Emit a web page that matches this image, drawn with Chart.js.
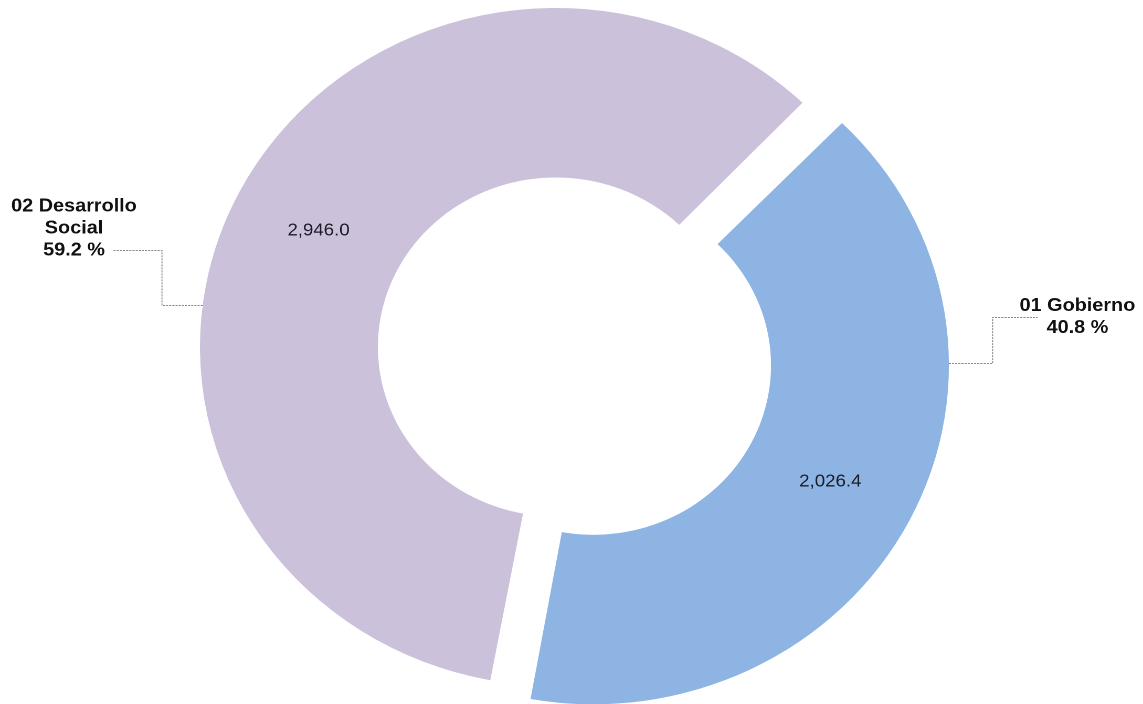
<!DOCTYPE html>
<html><head><meta charset="utf-8">
<script src="https://cdn.jsdelivr.net/npm/chart.js@4.4.1/dist/chart.umd.min.js"></script>
<style>
html,body{margin:0;padding:0;background:#fff;overflow:hidden;width:1143px;height:704px}
#wrap{position:absolute;left:0;top:0;width:1089px;height:704px;transform:scaleX(1.0496);transform-origin:0 0}
</style></head><body>
<div id="wrap"><canvas id="c"></canvas></div>
<script>
// ---- data ----
const categories = ['01 Gobierno', '02 Desarrollo Social'];
const categoryLines = [['01 Gobierno'], ['02 Desarrollo', 'Social']];
const values = [2026.4, 2946.0];
const colors = ['#8DB4E2', '#CCC1DA'];

// ---- layout ----
const RADIUS = 339, CUTOUT = '50%', ROTATION = 43.9, SHIFT = 40;
const offsets = [SHIFT * 4, 0];
const callouts = [
  {anchorDeg: 89.6, elbowX: 945.7, lineY: 317, endX: 988.6, textX: 1026.5, textY: 306},
  {anchorDeg: 277.2, elbowX: 154.3, lineY: 250, endX: 107.6, textX: 70.5, textY: 206.5}
];
const LINE_H = 22;
const FONT = 'Arial, "Liberation Sans", sans-serif';

const total = values.reduce((a, b) => a + b, 0);
const fmt = v => v.toLocaleString('en-US', {minimumFractionDigits: 1, maximumFractionDigits: 1});

// Chart.js grows an offset arc's radii by (offset/4)*fix while drawing; undo it so the
// exploded slice keeps the same ring size as the other slice.
const radiusGrowth = el => {
  const i = el.$context ? el.$context.dataIndex : 0;
  const off = (offsets[i] || 0) / 4;
  const circ = el.endAngle - el.startAngle;
  return off * (1 - Math.sin(Math.min(Math.PI, circ)));
};
const offsetFix = {
  id: 'offsetFix',
  afterDatasetsUpdate(chart) {
    chart.getDatasetMeta(0).data.forEach((el, i) => {
      const off = (offsets[i] || 0) / 4;
      if (!off) return;
      const circ = el.endAngle - el.startAngle;
      const g = off * (1 - Math.sin(Math.min(Math.PI, circ)));
      el.outerRadius -= g;
      el.innerRadius -= g;
      el._grow = g;
    });
  }
};

const labelsPlugin = {
  id: 'labelsPlugin',
  afterDraw(chart) {
    const ctx = chart.ctx;
    const meta = chart.getDatasetMeta(0);
    meta.data.forEach((el, i) => {
      const off = (offsets[i] || 0) / 4;
      const g = el._grow || 0;
      const outerR = el.outerRadius + g, innerR = el.innerRadius + g;
      const mid = (el.startAngle + el.endAngle) / 2;
      const cx = el.x + Math.cos(mid) * off, cy = el.y + Math.sin(mid) * off;
      const r = (innerR + outerR) / 2;
      ctx.save();
      ctx.fillStyle = '#1c1c28';
      ctx.font = '17.8px ' + FONT;
      ctx.textAlign = 'center';
      ctx.textBaseline = 'middle';
      ctx.fillText(fmt(values[i]), cx + Math.cos(mid) * r, cy + Math.sin(mid) * r);

      // leader line
      const c = callouts[i];
      const a = (c.anchorDeg - 90) * Math.PI / 180;
      const ax = cx + Math.cos(a) * outerR, ay = cy + Math.sin(a) * outerR;
      ctx.strokeStyle = '#8a8a8a';
      ctx.lineWidth = 1;
      ctx.setLineDash([2, 1]);
      ctx.beginPath();
      ctx.moveTo(ax, Math.round(ay) + 0.5);
      ctx.lineTo(c.elbowX, Math.round(ay) + 0.5);
      ctx.lineTo(c.elbowX, c.lineY + 0.5);
      ctx.lineTo(c.endX, c.lineY + 0.5);
      ctx.stroke();
      ctx.setLineDash([]);

      // category label
      ctx.fillStyle = '#111';
      ctx.font = 'bold 18.9px ' + FONT;
      const lines = categoryLines[i].concat([(values[i] / total * 100).toFixed(1) + ' %']);
      lines.forEach((t, k) => ctx.fillText(t, c.textX, c.textY + k * LINE_H));
      ctx.restore();
    });
  }
};

new Chart(document.getElementById('c'), {
  type: 'doughnut',
  data: {
    labels: categories,
    datasets: [{
      data: values,
      backgroundColor: colors,
      borderWidth: 0,
      offset: offsets,
      hoverOffset: 0
    }]
  },
  options: {
    responsive: true,
    maintainAspectRatio: false,
    devicePixelRatio: 2,
    animation: false,
    events: [],
    radius: RADIUS,
    cutout: CUTOUT,
    rotation: ROTATION,
    layout: {padding: {left: 0, right: 30, top: 0, bottom: 10}},
    plugins: {legend: {display: false}, tooltip: {enabled: false}}
  },
  plugins: [offsetFix, labelsPlugin]
});
</script>
</body></html>
